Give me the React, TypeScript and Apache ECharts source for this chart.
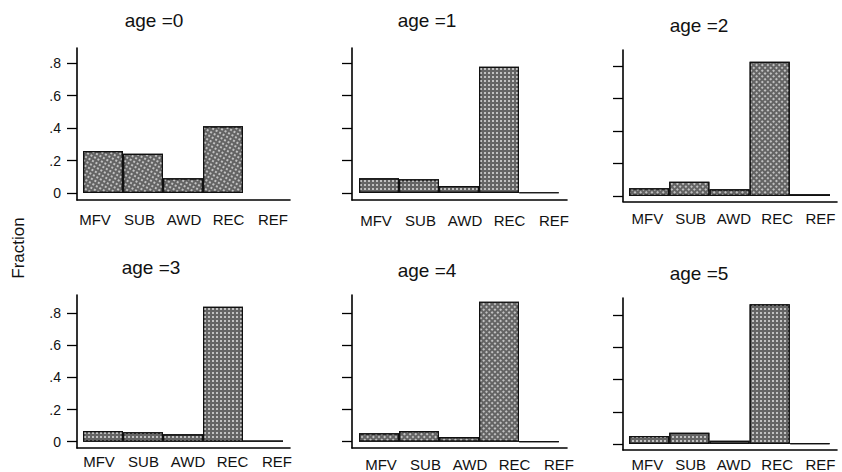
import React, { useEffect, useRef } from "react";
import * as echarts from "echarts";

const categories = ["MFV", "SUB", "AWD", "REC", "REF"];
const ageTitles = ["age =0", "age =1", "age =2", "age =3", "age =4", "age =5"];
const age0 = [0.258, 0.242, 0.09, 0.41, 0];
const age1 = [0.09, 0.084, 0.043, 0.777, 0.003];
const age2 = [0.047, 0.088, 0.041, 0.826, 0.01];
const age3 = [0.066, 0.058, 0.046, 0.838, 0.008];
const age4 = [0.052, 0.066, 0.029, 0.87, 0.002];
const age5 = [0.05, 0.07, 0.02, 0.868, 0.005];
const seriesValues = [age0, age1, age2, age3, age4, age5];
const yTicks = [0, 0.2, 0.4, 0.6, 0.8];
const yTickLabels = ["0", ".2", ".4", ".6", ".8"];
const yAxisTitle = "Fraction";

// layout (pixels) for each panel
const layout = [
  { ax: 77, right: 290, barL: 83, barW: 200, top: 48, zero: 193, base: 200, ppu: 162.5, lab0: 95, labY: 220, tx: 154, ty: 22, showLabels: true },
  { ax: 352, right: 567, barL: 359, barW: 200, top: 48, zero: 193, base: 200, ppu: 162.5, lab0: 376, labY: 221, tx: 427, ty: 22, showLabels: false },
  { ax: 623, right: 837, barL: 629, barW: 201, top: 50, zero: 196, base: 201.5, ppu: 162.5, lab0: 648, labY: 219, tx: 699, ty: 27, showLabels: false },
  { ax: 77, right: 290, barL: 83, barW: 200, top: 295, zero: 441.7, base: 448, ppu: 161, lab0: 99, labY: 462, tx: 151, ty: 269, showLabels: true },
  { ax: 352, right: 567, barL: 359, barW: 200, top: 295, zero: 441.7, base: 448, ppu: 161, lab0: 381, labY: 466, tx: 427, ty: 272, showLabels: false },
  { ax: 623, right: 837, barL: 629, barW: 201, top: 298, zero: 444, base: 450, ppu: 161, lab0: 648, labY: 469, tx: 699, ty: 275, showLabels: false },
];

const FONT = "Liberation Sans";
const LABEL_SPACING = 44.5;

function buildOption() {
  const grid: any[] = [];
  const xAxis: any[] = [];
  const yAxis: any[] = [];
  const series: any[] = [];
  const title: any[] = [];

  layout.forEach((p, i) => {
    const min = -(p.base - p.zero) / p.ppu;
    const max = (p.zero - p.top) / p.ppu;
    const height = p.base - p.top;
    const gA = grid.length;
    grid.push({ left: p.ax, top: p.top, width: p.right - p.ax, height, containLabel: false });
    grid.push({ left: p.barL, top: p.top, width: p.barW, height, containLabel: false });
    grid.push({ left: p.lab0 - LABEL_SPACING / 2, top: p.top, width: LABEL_SPACING * 5, height, containLabel: false });

    xAxis.push({
      gridIndex: gA, type: "value", min: 0, max: 1,
      axisLine: { show: true, onZero: false, lineStyle: { color: "#000", width: 1.6 } },
      axisTick: { show: false }, axisLabel: { show: false }, splitLine: { show: false },
    });
    yAxis.push({
      gridIndex: gA, type: "value", min, max,
      axisLine: { show: true, onZero: false, lineStyle: { color: "#000", width: 1.6 } },
      axisTick: { show: true, length: 10, customValues: yTicks, lineStyle: { color: "#000", width: 1.3 } },
      axisLabel: {
        show: p.showLabels, customValues: yTicks, margin: 16,
        color: "#111", fontSize: 14, fontFamily: FONT,
        formatter: (v: number) => {
          const k = yTicks.findIndex((t) => Math.abs(t - v) < 1e-6);
          return k >= 0 ? yTickLabels[k] : "";
        },
      },
      splitLine: { show: false },
    });

    xAxis.push({
      gridIndex: gA + 1, type: "category", data: categories,
      axisLine: { show: false }, axisTick: { show: false }, axisLabel: { show: false }, splitLine: { show: false },
    });
    yAxis.push({
      gridIndex: gA + 1, type: "value", min, max,
      axisLine: { show: false }, axisTick: { show: false }, axisLabel: { show: false }, splitLine: { show: false },
    });

    xAxis.push({
      gridIndex: gA + 2, type: "category", data: categories, position: "bottom",
      axisLine: { show: false }, axisTick: { show: false },
      axisLabel: { show: true, interval: 0, margin: p.labY - 8 - p.base, color: "#111", fontSize: 15, fontFamily: FONT },
      splitLine: { show: false },
    });
    yAxis.push({ gridIndex: gA + 2, type: "value", min, max, show: false });

    series.push({
      type: "bar",
      name: ageTitles[i],
      xAxisIndex: gA + 1,
      yAxisIndex: gA + 1,
      data: seriesValues[i].map((v) => (v === 0 ? { value: v, itemStyle: { borderWidth: 0 } } : v)),
      barWidth: "100%",
      barCategoryGap: 0,
      itemStyle: {
        color: "#646464",
        borderColor: "#111",
        borderWidth: 1.2,
        decal: {
          symbol: "rect",
          symbolSize: 1,
          color: "rgba(255,255,255,0.6)",
          dashArrayX: [2, 2],
          dashArrayY: [2, 2],
        },
      },
    });

    title.push({
      text: ageTitles[i],
      left: p.tx,
      top: p.ty - 11,
      textAlign: "center",
      padding: 0,
      textStyle: { fontSize: 19, fontWeight: "normal", color: "#111", fontFamily: FONT },
    });
  });

  return {
    animation: false,
    backgroundColor: "#fff",
    aria: { enabled: true, decal: { show: true } },
    title,
    grid,
    xAxis,
    yAxis,
    series,
    graphic: [
      {
        type: "text",
        x: 18,
        y: 248,
        rotation: Math.PI / 2,
        style: {
          text: yAxisTitle,
          font: "17px 'Liberation Sans'",
          fill: "#111",
          align: "center",
          verticalAlign: "middle",
        },
      },
    ],
  };
}

export default function App() {
  const ref = useRef<HTMLDivElement>(null);
  useEffect(() => {
    if (!ref.current) return;
    const chart = echarts.init(ref.current, null, { renderer: "svg" });
    chart.setOption(buildOption() as any);
    return () => chart.dispose();
  }, []);
  return (
    <div
      ref={ref}
      style={{ position: "absolute", left: 0, top: 0, width: 842, height: 472 }}
    />
  );
}
